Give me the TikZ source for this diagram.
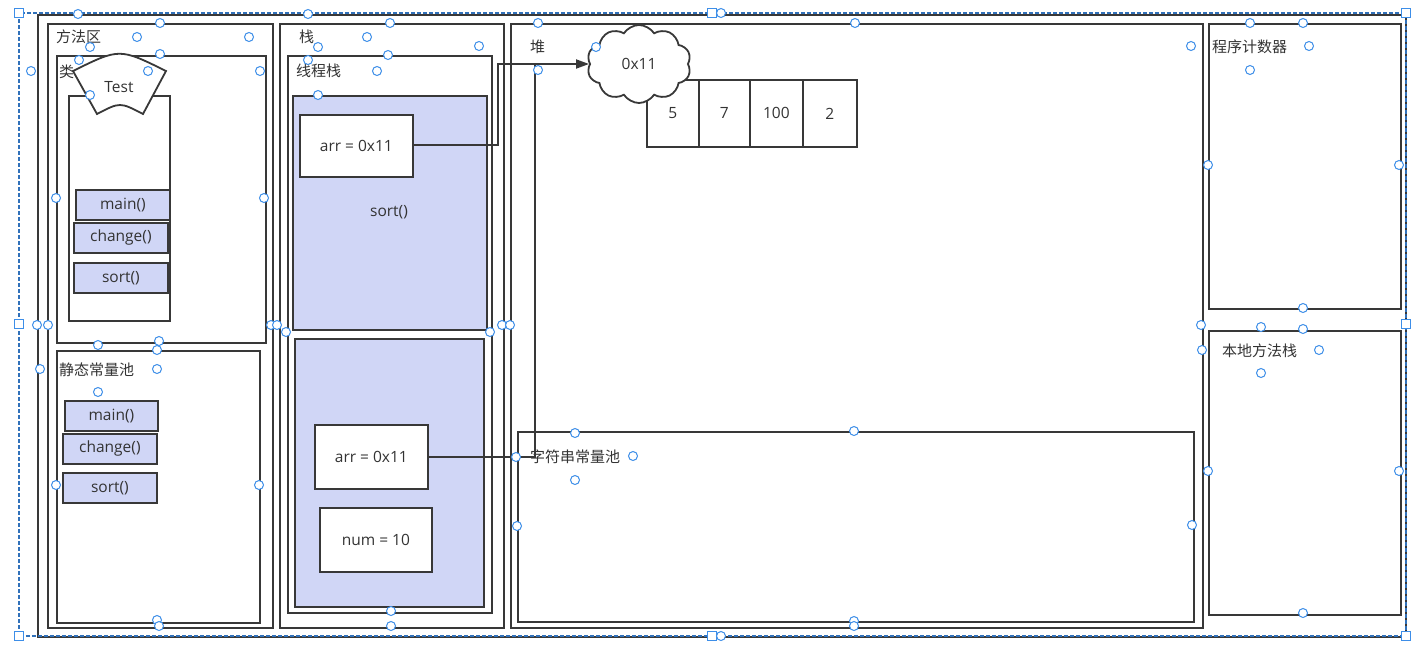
\documentclass[tikz,border=0pt]{standalone}
\usepackage{fontspec}
\setmainfont{Open Sans}
\newfontfamily\cjk{Noto Sans CJK SC}
\usetikzlibrary{shapes.symbols,arrows.meta}
\definecolor{ln}{HTML}{383838}
\definecolor{lav}{HTML}{D0D6F6}
\definecolor{hb}{HTML}{3D8EE8}
\definecolor{tx}{HTML}{333333}
\begin{document}
\begin{tikzpicture}[x=1pt,y=-1pt,
  box/.style={draw=ln,line width=1.8pt,rectangle,anchor=north west,inner sep=0pt,
    font=\fontsize{15.5}{18}\selectfont,text=tx},
  lbl/.style={anchor=west,inner sep=0pt,font=\cjk\fontsize{15}{18}\selectfont,text=tx},
  ltx/.style={anchor=center,inner sep=0pt,font=\fontsize{15.5}{18}\selectfont,text=tx},
  meth/.style={box,fill=lav,minimum height=30pt},
  cell/.style={box,minimum height=67pt},
  handle/.style={draw=hb,fill=white,line width=1pt},
  conn/.style={draw=ln,line width=1.8pt}]
\useasboundingbox (0,0) rectangle (1422,667);
% outer
\node[box,minimum width=1368pt,minimum height=622pt] (outer) at (37,14) {};
% method area
\node[box,minimum width=225pt,minimum height=604pt] (method) at (47,23) {};
\node[lbl] (methodl) at (56,37) {方法区};
\node[box,minimum width=209pt,minimum height=287pt] (cls) at (56,55) {};
\node[lbl] (clsl) at (59,72) {类};
\node[box,minimum width=101pt,minimum height=225pt] (clsbody) at (68,95) {};
\node[meth,minimum width=94pt] (m1) at (75,189) {main()};
\node[meth,minimum width=94pt] (c1) at (73,222) {change()};
\node[meth,minimum width=94pt] (s1) at (73,262) {sort()};
\filldraw[draw=ln,fill=white,line width=1.8pt] (73,71) .. controls (119.5,48) .. (166,71) -- (143,114) .. controls (120,102) .. (97,114) -- cycle;
\node[ltx] (test) at (119,87) {Test};
\node[box,minimum width=203pt,minimum height=272pt] (static) at (56,350) {};
\node[lbl] (staticl) at (59,370) {静态常量池};
\node[meth,minimum width=93pt] (m2) at (64,400) {main()};
\node[meth,minimum width=94pt] (c2) at (62,433) {change()};
\node[meth,minimum width=94pt] (s2) at (62,472) {sort()};
% stack
\node[box,minimum width=224pt,minimum height=604pt] (stack) at (279,23) {};
\node[lbl] (stackl) at (299,37) {栈};
\node[box,minimum width=204pt,minimum height=557pt] (thread) at (287,55) {};
\node[lbl] (threadl) at (296,71) {线程栈};
\node[box,fill=lav,minimum width=194pt,minimum height=234pt] (frame1) at (292,95) {};
\node[box,fill=white,minimum width=113pt,minimum height=62pt] (arr1) at (299,114) {arr = 0x11};
\node[ltx] (sortl) at (389,212) {sort()};
\node[box,fill=lav,minimum width=189pt,minimum height=268pt] (frame2) at (294,338) {};
\node[box,fill=white,minimum width=113pt,minimum height=64pt] (arr2) at (314,424) {arr = 0x11};
\node[box,fill=white,minimum width=112pt,minimum height=64pt] (num) at (319,507) {num = 10};
% heap
\node[box,minimum width=692pt,minimum height=604pt] (heap) at (510,23) {};
\node[lbl] (heapl) at (530,47) {堆};
\node[box,minimum width=676pt,minimum height=190pt] (pool) at (517,431) {};
\node[lbl] (pooll) at (530,457) {字符串常量池};
\node[cell,minimum width=52pt] (e1) at (646,79) {5};
\node[cell,minimum width=51pt] (e2) at (698,79) {7};
\node[cell,minimum width=53pt] (e3) at (749,79) {100};
\node[cell,minimum width=54pt] (e4) at (802,79) {2};
\node[cloud,draw=ln,fill=white,line width=1.8pt,cloud puffs=10,cloud puff arc=115,
  minimum width=104pt,minimum height=78pt,aspect=1.3,inner sep=0pt,
  font=\fontsize{15.5}{18}\selectfont,text=tx] (obj) at (639,64) {0x11};
% right column
\node[box,minimum width=192pt,minimum height=285pt] (pc) at (1208,23) {};
\node[lbl] (pcl) at (1212,47) {程序计数器};
\node[box,minimum width=192pt,minimum height=284pt] (native) at (1208,330) {};
\node[lbl] (nativel) at (1222,351) {本地方法栈};
% connectors
\coordinate (j1) at (498,145);
\coordinate (j2) at (498,64);
\coordinate (k1) at (535,457);
\coordinate (k2) at (535,64);
\draw[conn,-{Triangle[length=13pt,width=9pt]}] (arr1.east |- j1) -- (j1) -- (j2) -- (obj.west |- j2);
\draw[conn] (arr2.east |- k1) -- (k1) -- (k2);
% selection frame
\draw[hb!80!black,line width=1.2pt,dash pattern=on 4pt off 2pt] (19,13) rectangle (1406,636);
\foreach \x/\y in {19/13,712/13,1406/13,19/324,1406/324,19/636,712/636,1406/636}
  \draw[handle] (\x-4.5,\y-4.5) rectangle +(9,9);
\foreach \x/\y in {78/14,160/23,137/37,249/37,90/47,160/54,79/60,31/71,148/71,260/71,90/95,
  56/198,264/198,37/325,48/325,271/325,277/325,159/341,98/345,157/350,40/369,157/369,98/392,
  56/485,259/485,157/620,159/626,308/14,390/23,367/37,479/46,318/47,388/55,308/60,377/71,318/95,
  286/332,490/332,502/325,510/325,391/611,391/626,516/457,575/433,633/456,575/480,517/526,
  721/13,538/23,855/23,596/47,538/70,1250/23,1303/23,1191/46,1309/46,1250/70,1208/165,1399/165,
  1303/308,1201/325,1261/327,1303/329,1202/350,1319/350,1261/373,1208/471,1399/471,1192/525,
  1303/613,721/636,854/621,854/626,854/431}
  \draw[handle] (\x,\y) circle (4.5);
\end{tikzpicture}
\end{document}
